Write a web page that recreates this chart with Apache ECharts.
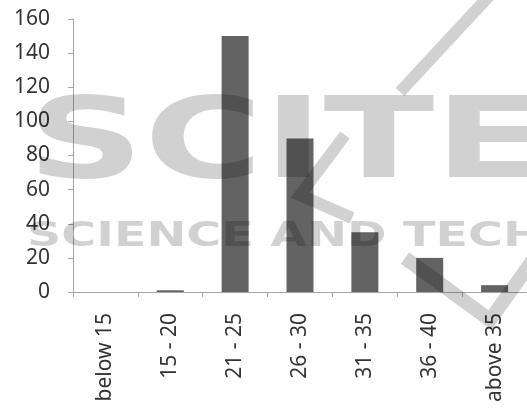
<!DOCTYPE html>
<html>
<head>
<meta charset="utf-8">
<script src="https://cdn.jsdelivr.net/npm/echarts@6/dist/echarts.min.js"></script>
<style>
html,body{margin:0;padding:0;background:#fff;}
#chart{width:527px;height:414px;}
</style>
</head>
<body>
<div id="chart"></div>
<script>
var categories = ['below 15', '15 - 20', '21 - 25', '26 - 30', '31 - 35', '36 - 40', 'above 35'];
var values = [0, 1, 150, 90, 35, 20, 4];
var yTicks = [0, 20, 40, 60, 80, 100, 120, 140, 160];

var chart = echarts.init(document.getElementById('chart'), null, {renderer: 'canvas'});
var labelFont = 'Noto Sans';
var axisColor = '#a6a6a6';
var textColor = '#333333';
var wm = 'rgba(0,0,0,0.18)';

chart.setOption({
  animation: false,
  backgroundColor: '#ffffff',
  grid: {left: 73, right: -1, top: 19, bottom: 122, containLabel: false},
  xAxis: {
    type: 'category',
    data: categories,
    axisLine: {lineStyle: {color: axisColor, width: 1}},
    axisTick: {show: true, length: 5, lineStyle: {color: axisColor}},
    axisLabel: {rotate: 90, margin: 21, color: textColor, fontFamily: labelFont, fontSize: 21, interval: 0}
  },
  yAxis: {
    type: 'value',
    min: yTicks[0],
    max: yTicks[yTicks.length - 1],
    interval: yTicks[1] - yTicks[0],
    splitLine: {show: false},
    axisLine: {show: true, lineStyle: {color: axisColor, width: 1}},
    axisTick: {show: true, length: 5, lineStyle: {color: axisColor}},
    axisLabel: {margin: 23, color: textColor, fontFamily: labelFont, fontSize: 21}
  },
  series: [{
    type: 'bar',
    data: values,
    barWidth: 27,
    itemStyle: {color: '#636363'}
  }],
  graphic: [
    {type: 'text', left: 27, top: 92, z: 100, silent: true, scaleX: 1.45,
     style: {text: 'SCITE', font: 'bold 112px "DejaVu Sans"', fill: wm}},
    {type: 'text', left: 27, top: 220, z: 100, silent: true, scaleX: 1.4,
     style: {text: 'SCIENCE AND TECH', font: 'bold 34px "DejaVu Sans"', fill: wm}},
    {type: 'polyline', z: 100, silent: true,
     shape: {points: [[490, -5], [400, 92]]},
     style: {stroke: wm, lineWidth: 12, fill: null}},
    {type: 'polyline', z: 100, silent: true,
     shape: {points: [[345, 135], [300, 195], [352, 218]]},
     style: {stroke: wm, lineWidth: 12, fill: null, lineJoin: 'miter'}},
    {type: 'polyline', z: 100, silent: true,
     shape: {points: [[405, 258], [490, 320], [540, 250]]},
     style: {stroke: wm, lineWidth: 14, fill: null, lineJoin: 'miter'}}
  ]
});
</script>
</body>
</html>
